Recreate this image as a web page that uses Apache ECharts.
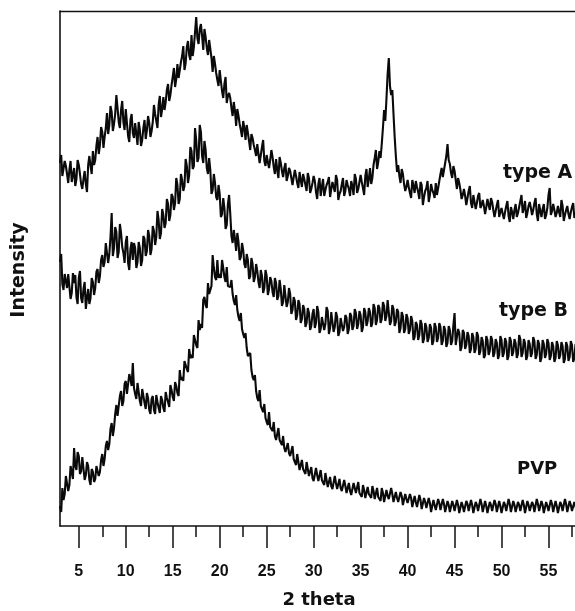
<!DOCTYPE html>
<html>
<head>
<meta charset="utf-8">
<script src="https://cdn.jsdelivr.net/npm/echarts@6/dist/echarts.min.js"></script>
<style>html,body{margin:0;padding:0;background:#fff}#c{width:575px;height:611px}</style>
</head>
<body>
<div id="c"></div>
<script>
// 2 theta sampling (degrees), 0.125 deg step
const twoTheta = [
3,3.125,3.25,3.375,3.5,3.625,3.75,3.875, 4,4.125,4.25,4.375,4.5,4.625,4.75,4.875,
5,5.125,5.25,5.375,5.5,5.625,5.75,5.875, 6,6.125,6.25,6.375,6.5,6.625,6.75,6.875,
7,7.125,7.25,7.375,7.5,7.625,7.75,7.875, 8,8.125,8.25,8.375,8.5,8.625,8.75,8.875,
9,9.125,9.25,9.375,9.5,9.625,9.75,9.875, 10,10.125,10.25,10.375,10.5,10.625,10.75,10.875,
11,11.125,11.25,11.375,11.5,11.625,11.75,11.875, 12,12.125,12.25,12.375,12.5,12.625,12.75,12.875,
13,13.125,13.25,13.375,13.5,13.625,13.75,13.875, 14,14.125,14.25,14.375,14.5,14.625,14.75,14.875,
15,15.125,15.25,15.375,15.5,15.625,15.75,15.875, 16,16.125,16.25,16.375,16.5,16.625,16.75,16.875,
17,17.125,17.25,17.375,17.5,17.625,17.75,17.875, 18,18.125,18.25,18.375,18.5,18.625,18.75,18.875,
19,19.125,19.25,19.375,19.5,19.625,19.75,19.875, 20,20.125,20.25,20.375,20.5,20.625,20.75,20.875,
21,21.125,21.25,21.375,21.5,21.625,21.75,21.875, 22,22.125,22.25,22.375,22.5,22.625,22.75,22.875,
23,23.125,23.25,23.375,23.5,23.625,23.75,23.875, 24,24.125,24.25,24.375,24.5,24.625,24.75,24.875,
25,25.125,25.25,25.375,25.5,25.625,25.75,25.875, 26,26.125,26.25,26.375,26.5,26.625,26.75,26.875,
27,27.125,27.25,27.375,27.5,27.625,27.75,27.875, 28,28.125,28.25,28.375,28.5,28.625,28.75,28.875,
29,29.125,29.25,29.375,29.5,29.625,29.75,29.875, 30,30.125,30.25,30.375,30.5,30.625,30.75,30.875,
31,31.125,31.25,31.375,31.5,31.625,31.75,31.875, 32,32.125,32.25,32.375,32.5,32.625,32.75,32.875,
33,33.125,33.25,33.375,33.5,33.625,33.75,33.875, 34,34.125,34.25,34.375,34.5,34.625,34.75,34.875,
35,35.125,35.25,35.375,35.5,35.625,35.75,35.875, 36,36.125,36.25,36.375,36.5,36.625,36.75,36.875,
37,37.125,37.25,37.375,37.5,37.625,37.75,37.875, 38,38.125,38.25,38.375,38.5,38.625,38.75,38.875,
39,39.125,39.25,39.375,39.5,39.625,39.75,39.875, 40,40.125,40.25,40.375,40.5,40.625,40.75,40.875,
41,41.125,41.25,41.375,41.5,41.625,41.75,41.875, 42,42.125,42.25,42.375,42.5,42.625,42.75,42.875,
43,43.125,43.25,43.375,43.5,43.625,43.75,43.875, 44,44.125,44.25,44.375,44.5,44.625,44.75,44.875,
45,45.125,45.25,45.375,45.5,45.625,45.75,45.875, 46,46.125,46.25,46.375,46.5,46.625,46.75,46.875,
47,47.125,47.25,47.375,47.5,47.625,47.75,47.875, 48,48.125,48.25,48.375,48.5,48.625,48.75,48.875,
49,49.125,49.25,49.375,49.5,49.625,49.75,49.875, 50,50.125,50.25,50.375,50.5,50.625,50.75,50.875,
51,51.125,51.25,51.375,51.5,51.625,51.75,51.875, 52,52.125,52.25,52.375,52.5,52.625,52.75,52.875,
53,53.125,53.25,53.375,53.5,53.625,53.75,53.875, 54,54.125,54.25,54.375,54.5,54.625,54.75,54.875,
55,55.125,55.25,55.375,55.5,55.625,55.75,55.875, 56,56.125,56.25,56.375,56.5,56.625,56.75,56.875,
57,57.125,57.25,57.375,57.5,57.625,57.75,57.875, 58];

// Intensity (arbitrary units; curves are stacked with offsets as in the figure)
const typeA = [
363,371,350,348,365,360,352,343, 356,365,344,351,358,340,347,366,
361,352,342,337,347,355,342,334, 361,370,360,352,375,361,366,380,
389,372,381,399,394,378,389,398, 413,392,401,420,414,395,402,412,
431,418,404,398,416,425,404,396, 417,403,390,384,406,412,393,388,
403,392,381,404,396,380,386,398, 406,387,396,410,403,389,395,404,
421,412,405,398,421,430,409,417, 429,416,424,436,442,425,431,441,
449,458,439,447,462,448,456,464, 470,480,456,463,479,485,471,466,
491,470,479,494,509,488,482,497, 502,490,476,497,489,478,471,486,
477,468,454,470,462,453,446,440, 456,445,435,428,442,449,423,430,
433,428,418,410,424,415,400,417, 410,402,396,389,405,398,386,401,
393,385,376,392,388,381,376,370, 382,372,363,371,379,386,365,360,
371,364,358,366,376,369,359,352, 367,356,348,369,363,355,349,358,
363,345,350,358,355,348,341,349, 356,350,343,338,354,346,339,352,
347,341,335,353,348,333,337,343, 350,345,334,327,342,348,330,339,
347,330,336,341,344,349,329,337, 344,339,334,351,346,326,332,335,
342,348,330,335,346,341,337,330, 345,340,331,352,347,333,337,344,
351,344,338,331,350,357,339,347, 358,342,348,361,368,376,357,364,
375,368,382,398,416,405,427,452, 468,440,431,436,412,389,370,354,
361,350,343,357,352,342,335,339, 346,339,333,328,346,340,333,345,
339,334,327,344,341,321,329,335, 338,345,324,331,342,336,333,328,
343,331,338,345,352,358,349,356, 363,370,382,366,362,353,348,360,
355,346,337,348,343,336,327,331, 337,330,321,328,335,340,323,318,
331,324,317,323,330,333,318,321, 326,320,312,319,327,321,316,328,
324,316,309,315,321,326,309,314, 318,312,307,314,320,325,310,304,
319,314,307,316,322,309,313,319, 325,331,313,318,325,308,313,320,
324,318,311,316,323,328,312,305, 322,315,309,317,322,307,311,318,
331,338,311,315,322,316,309,313, 320,314,309,326,320,305,311,316,
320,312,307,314,319,323,308,311, 316];

const typeB = [
264,272,242,236,252,245,238,252, 250,227,233,253,243,251,229,222,
248,255,228,223,237,244,217,228, 237,222,228,248,244,231,238,254,
257,243,250,266,271,259,264,283, 282,263,272,289,313,270,278,299,
294,268,274,302,293,279,273,263, 284,290,263,256,277,284,266,283,
278,258,264,284,278,260,266,290, 287,270,275,296,290,271,277,300,
295,281,289,315,306,287,293,317, 311,298,303,327,322,305,311,332,
329,316,323,348,341,322,327,352, 346,335,340,367,360,343,351,379,
375,357,360,398,386,364,368,401, 394,370,363,385,376,358,352,368,
356,332,336,352,343,329,326,341, 332,309,312,328,318,297,301,322,
331,312,290,283,296,287,275,293, 284,266,269,283,276,262,258,272,
266,247,250,268,262,244,249,262, 255,244,238,256,250,233,238,256,
250,231,237,249,245,234,229,248, 243,226,230,246,237,220,224,241,
239,219,224,238,232,212,216,229, 225,206,211,226,222,203,207,221,
217,199,203,218,213,196,200,212, 217,198,203,220,214,193,197,209,
211,196,202,219,215,192,198,214, 212,194,199,214,209,190,194,208,
210,195,199,211,208,192,197,213, 210,196,200,217,213,197,202,215,
211,194,199,218,214,200,205,218, 214,199,203,222,218,201,206,221,
218,203,207,224,220,205,210,226, 228,201,205,221,217,200,204,217,
214,193,198,214,210,193,197,212, 208,192,196,210,205,186,189,204,
201,186,191,206,202,183,187,203, 199,184,188,202,198,181,185,203,
199,184,188,203,199,181,185,200, 196,179,183,200,196,181,185,201,
213,181,183,197,193,175,179,196, 193,177,181,194,190,173,177,193,
189,173,177,194,190,171,175,189, 185,168,171,190,186,171,175,190,
186,169,173,187,183,167,171,190, 186,169,173,188,184,166,170,189,
185,170,174,187,183,168,172,191, 187,169,173,187,183,166,170,186,
182,169,173,189,185,167,171,186, 182,164,168,186,182,168,172,187,
183,166,170,184,180,164,168,185, 181,167,171,184,180,163,167,184,
180,165,169,185,181,164,168,182, 178];

const pvp = [
20,14,38,26,32,50,49,35, 41,60,58,47,78,60,56,74,
70,52,55,69,67,46,51,64, 60,46,41,57,54,44,47,60,
61,50,54,66,72,60,67,80, 85,76,82,97,103,90,98,112,
121,110,112,130,135,120,125,142, 145,132,131,152,147,140,163,138,
132,127,143,134,125,120,137,135, 123,117,133,128,116,112,127,130,
116,112,131,124,118,113,130,126, 118,114,134,128,124,119,141,136,
129,125,144,140,133,130,156,146, 149,145,165,163,157,154,177,168,
171,168,191,190,181,178,206,196, 202,198,226,229,221,218,243,232,
236,240,271,258,249,246,266,248, 252,248,266,258,249,244,259,240,
241,239,246,232,225,221,231,216, 209,205,213,197,192,188,193,178,
170,168,173,156,149,146,151,135, 128,125,136,120,117,114,122,108,
104,101,114,99,97,95,104,90, 86,84,98,86,84,81,90,78,
74,72,83,73,70,68,80,67, 64,61,72,64,56,54,66,57,
55,52,64,57,50,48,59,48, 45,44,58,51,45,43,56,46,
44,41,53,46,39,37,49,40, 37,35,50,43,37,35,47,38,
35,33,46,40,33,31,43,35, 31,30,43,38,33,31,44,33,
31,29,41,36,28,26,39,32, 30,28,40,35,27,25,38,29,
27,25,38,33,24,22,36,30, 27,25,38,32,24,22,34,28,
24,22,34,30,21,19,32,27, 23,21,32,28,19,17,30,24,
19,17,31,26,17,15,28,24, 18,16,28,23,14,12,26,21,
16,14,27,23,16,14,27,22, 14,12,25,21,14,12,25,21,
15,13,26,21,13,11,24,20, 14,12,25,22,15,13,26,21,
13,11,24,21,15,13,27,22, 14,12,25,20,13,11,24,21,
15,13,26,22,14,12,25,20, 13,11,24,21,15,13,27,22,
14,12,25,21,14,12,24,21, 15,13,26,21,13,11,25,21,
15,13,24,21,14,12,27,22, 15,13,25,21,13,11,24,20,
15,13,26,22,14,12,25,20, 13,11,24,21,15,13,27,22,
14,12,25,21,15,13,24,20, 14];

const majorTicks = [5,10,15,20,25,30,35,40,45,50,55];
const minorTicks = [7.5,12.5,17.5,22.5,27.5,32.5,37.5,42.5,47.5,52.5,57.5];
const seriesNames = ['type A','type B','PVP'];

const chart = echarts.init(document.getElementById('c'), null, {renderer:'canvas'});
const pair = arr => twoTheta.map((t,i)=>[t, arr[i]]);
const lineStyle = {color:'#0a0a0a', width:2.1};
const mk = (name, arr) => ({
  name, type:'line', data: pair(arr), showSymbol:false, symbol:'none',
  lineStyle, silent:true, animation:false, clip:true, z:3
});
const titleFont = 'bold 19px "DejaVu Sans"';
const XMIN = 3, XMAX = 57.82;

chart.setOption({
  backgroundColor:'#fff',
  animation:false,
  grid:{left:60, top:11, right:0, height:515, show:false},
  xAxis:[{
    type:'value', min:XMIN, max:XMAX, position:'bottom',
    axisLine:{show:true, lineStyle:{color:'#111', width:1.6}},
    axisTick:{show:true, customValues:majorTicks, length:22, inside:false, lineStyle:{color:'#111', width:1.5}},
    axisLabel:{show:true, customValues:majorTicks, margin:38, color:'#111', fontFamily:'Liberation Sans', fontWeight:'bold', fontSize:16},
    splitLine:{show:false}
  },{
    type:'value', min:XMIN, max:XMAX, position:'bottom',
    axisLine:{show:false},
    axisTick:{show:true, customValues:minorTicks, length:11, lineStyle:{color:'#111', width:1.5}},
    axisLabel:{show:false},
    splitLine:{show:false}
  },{
    type:'value', min:XMIN, max:XMAX, position:'top',
    axisLine:{show:true, lineStyle:{color:'#111', width:1.4}},
    axisTick:{show:false}, axisLabel:{show:false}, splitLine:{show:false}
  }],
  yAxis:{type:'value', min:0, max:515, position:'left',
    axisLine:{show:true, lineStyle:{color:'#111', width:1.6}},
    axisTick:{show:false}, axisLabel:{show:false}, splitLine:{show:false}},
  series:[mk(seriesNames[0], typeA), mk(seriesNames[1], typeB), mk(seriesNames[2], pvp)],
  graphic:[
    {type:'text', x:503, y:173.5, style:{text:seriesNames[0], font:titleFont, fill:'#111', textAlign:'left', textVerticalAlign:'middle'}},
    {type:'text', x:499, y:311, style:{text:seriesNames[1], font:titleFont, fill:'#111', textAlign:'left', textVerticalAlign:'middle'}},
    {type:'text', x:517, y:469.5, style:{text:seriesNames[2], font:'bold 18px "DejaVu Sans"', fill:'#111', textAlign:'left', textVerticalAlign:'middle'}},
    {type:'text', x:319, y:600, style:{text:'2 theta', font:'bold 18px "DejaVu Sans"', fill:'#111', textAlign:'center', textVerticalAlign:'middle'}},
    {type:'text', x:19, y:270, rotation:Math.PI/2, style:{text:'Intensity', font:titleFont, fill:'#111', textAlign:'center', textVerticalAlign:'middle'}}
  ]
});
</script>
</body>
</html>
